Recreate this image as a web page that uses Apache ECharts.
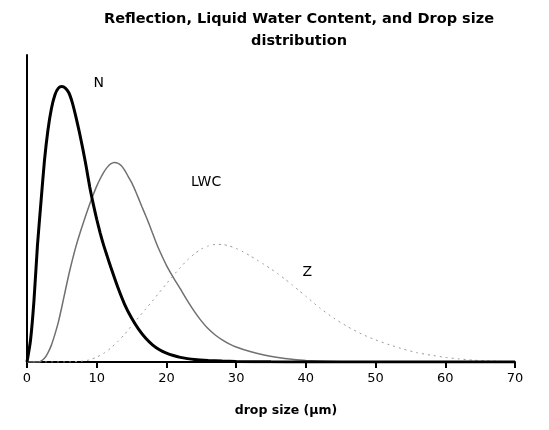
<!DOCTYPE html>
<html><head><meta charset="utf-8">
<script src="https://cdn.jsdelivr.net/npm/echarts@6/dist/echarts.min.js"></script>
<style>html,body{margin:0;padding:0;background:#fff}#c{width:549px;height:430px}</style>
</head><body><div id="c"></div>
<script>
var titleText = 'Reflection, Liquid Water Content, and Drop size\ndistribution';
var xTicks = [0, 10, 20, 30, 40, 50, 60, 70];
var xName = 'drop size (\u03bcm)';

// drop size (µm) and relative value (% of axis height)
var nX = [0, 0.5, 1, 1.5, 2, 2.5, 3, 3.5, 4, 4.5, 5, 5.5, 6, 6.5, 7, 7.5, 8, 8.5, 9, 9.5, 10, 10.5, 11, 11.5, 12, 13, 14, 15, 16, 17, 18, 19, 20, 21, 22, 23, 24, 26, 28, 30, 35, 40, 70];
var nY = [0, 7, 20, 38, 52, 65.5, 75.5, 82.5, 87, 89.2, 89.7, 89.2, 87.7, 84.5, 80, 75, 69.5, 63.5, 57, 51.5, 46.5, 42, 38, 34.5, 31, 24.5, 18.8, 14.3, 10.7, 7.8, 5.6, 4, 2.9, 2.1, 1.5, 1.1, 0.8, 0.5, 0.3, 0.2, 0.05, 0, 0];

var lwcX = [0, 1.5, 2, 2.5, 3, 3.5, 4, 4.5, 5, 5.5, 6, 6.5, 7, 7.5, 8, 8.5, 9, 9.5, 10, 10.5, 11, 11.5, 12, 12.5, 13, 13.5, 14, 14.5, 15, 15.5, 16, 16.5, 17, 17.5, 18, 18.5, 19, 20, 21, 22, 23, 24, 25, 26, 27, 28, 29, 30, 32, 34, 36, 38, 40, 45, 50, 70];
var lwcY = [0, 0, 0.3, 1.2, 3, 5.5, 9, 13, 18, 23.3, 28.5, 33.2, 37.5, 41.3, 44.8, 48.2, 51.5, 54.5, 57.3, 59.7, 61.8, 63.4, 64.5, 65, 64.8, 64, 62.5, 60.5, 58.5, 56, 53.3, 50.5, 47.8, 45, 42, 39, 36.3, 31.5, 27.5, 23.8, 20, 16.5, 13.4, 10.8, 8.8, 7.2, 5.9, 4.9, 3.4, 2.3, 1.5, 0.9, 0.5, 0.1, 0, 0];

var zX = [0, 6, 8, 9, 10, 11, 12, 13, 14, 15, 16, 17, 18, 19, 20, 21, 22, 23, 24, 25, 26, 27, 28, 29, 30, 31, 32, 33, 34, 35, 36, 37, 38, 39, 40, 42, 44, 46, 48, 50, 52, 54, 56, 58, 60, 62, 64, 66, 68, 70];
var zY = [0, 0, 0.3, 0.7, 1.6, 2.8, 4.5, 6.6, 9, 11.8, 14.5, 17.2, 19.9, 22.7, 25.5, 28.2, 30.8, 33.2, 35.2, 36.8, 37.8, 38.3, 38.3, 37.8, 37, 35.9, 34.6, 33.2, 31.8, 30.3, 28.7, 27, 25.2, 23.3, 21.4, 17.6, 14.3, 11.5, 9.1, 7.2, 5.6, 4.2, 3, 2.2, 1.5, 1, 0.6, 0.4, 0.2, 0.1];

var labelNames = ['N', 'LWC', 'Z'];
var labelX = [10.3, 25.7, 40.2];
var labelY = [90.9, 58.6, 29.3];

var WIDE = 'DejaVu Sans, sans-serif';

function pairs(xs, ys) { return xs.map(function (x, i) { return [x, ys[i]]; }); }
function lab(i) {
  return {
    symbol: 'circle', symbolSize: 1, itemStyle: { color: 'rgba(0,0,0,0)' },
    label: { show: true, formatter: labelNames[i], color: '#000', fontSize: 14,
      fontFamily: WIDE, position: 'inside' },
    data: [{ coord: [labelX[i], labelY[i]], value: labelNames[i] }]
  };
}

var chart = echarts.init(document.getElementById('c'), null, { renderer: 'canvas' });
chart.setOption({
  animation: false,
  backgroundColor: '#fff',
  title: {
    text: titleText, left: 294, top: 3, textAlign: 'center',
    textStyle: { fontFamily: WIDE, fontWeight: 'bold', fontSize: 14.5,
      color: '#000', lineHeight: 22 }
  },
  grid: { left: 27, right: 34, top: 55, bottom: 68 },
  xAxis: {
    type: 'value', min: 0, max: 70, interval: 10,
    name: xName, nameLocation: 'middle', nameGap: 42,
    nameTextStyle: { fontFamily: WIDE, fontWeight: 'bold', fontSize: 12.5,
      color: '#000', padding: [0, 0, 0, 30] },
    axisLine: { lineStyle: { color: '#000', width: 2 } },
    axisTick: { show: true, length: 6, lineStyle: { color: '#000', width: 2 } },
    axisLabel: { color: '#000', fontSize: 13, fontFamily: WIDE, margin: 10,
      formatter: function (v) { return xTicks.indexOf(v) >= 0 ? String(v) : ''; } },
    splitLine: { show: false }
  },
  yAxis: {
    type: 'value', min: 0, max: 100,
    axisLine: { show: true, lineStyle: { color: '#000', width: 2 } },
    axisTick: { show: false }, axisLabel: { show: false }, splitLine: { show: false }
  },
  series: [
    { name: 'Z', type: 'line', smooth: 0.2, symbol: 'none', data: pairs(zX, zY),
      lineStyle: { color: '#9a9a9a', width: 1, type: [2, 4] }, markPoint: lab(2), z: 1 },
    { name: 'LWC', type: 'line', smooth: 0.2, symbol: 'none', data: pairs(lwcX, lwcY),
      lineStyle: { color: '#707070', width: 1.5 }, markPoint: lab(1), z: 2 },
    { name: 'N', type: 'line', smooth: 0.2, symbol: 'none', data: pairs(nX, nY),
      lineStyle: { color: '#000', width: 3 }, markPoint: lab(0), z: 3 }
  ]
});
</script></body></html>
